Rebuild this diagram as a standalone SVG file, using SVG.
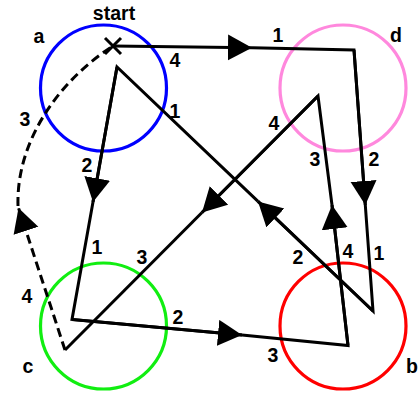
<svg xmlns="http://www.w3.org/2000/svg" width="420" height="396" viewBox="0 0 420 396">
<defs>
<marker id="arr" markerUnits="userSpaceOnUse" markerWidth="26" markerHeight="28" refX="24" refY="13" orient="auto">
<path d="M0,0 L24,13 L0,26 z" fill="#000"/>
</marker>
<style>
.node{fill:none;stroke-width:3.2}
.ln{fill:none;stroke:#000;stroke-width:3;stroke-linejoin:miter}
.dash{stroke-dasharray:9,5}
text{font-family:"Liberation Sans",Arial,sans-serif;font-weight:bold;font-size:19.5px;fill:#000;text-anchor:middle}
</style>
</defs>
<g id="node-a"><circle class="node" cx="103.5" cy="88" r="63" stroke="#0000ff"/><text x="39" y="43">a</text></g>
<g id="node-d"><circle class="node" cx="343" cy="88" r="63" stroke="#ff88dd"/><text x="396" y="42">d</text></g>
<g id="node-c"><circle class="node" cx="103.5" cy="326" r="63" stroke="#11ee11"/><text x="28" y="373">c</text></g>
<g id="node-b"><circle class="node" cx="343" cy="326" r="63" stroke="#ff0000"/><text x="412" y="373">b</text></g>
<g id="start"><text x="114" y="20">start</text>
<path class="ln" d="M105,38 L121,54 M121,38 L105,54"/></g>
<g id="connectors">
<path class="ln" marker-end="url(#arr)" d="M113,46 L252,47.7"/><path class="ln" d="M252,47.7 L354,50 L365.3,205"/>
<path class="ln" marker-end="url(#arr)" d="M354,50 L365.3,205"/><path class="ln" d="M365.3,205 L373,311 L258,201.4"/>
<path class="ln" marker-end="url(#arr)" d="M373,311 L258,201.4"/><path class="ln" d="M258,201.4 L117,67 L93,202"/>
<path class="ln" marker-end="url(#arr)" d="M117,67 L93,202"/><path class="ln" d="M93,202 L72,319.5 L242,335"/>
<path class="ln" marker-end="url(#arr)" d="M72,319.5 L242,335"/><path class="ln" d="M242,335 L348,345.5 L332,205"/>
<path class="ln" marker-end="url(#arr)" d="M348,345.5 L332,205"/><path class="ln" d="M332,205 L318,96 L202,212.5"/>
<path class="ln" marker-end="url(#arr)" d="M318,96 L202,212.5"/><path class="ln" d="M202,212.5 L65,350"/>
<path class="ln dash" marker-end="url(#arr)" d="M65,350 L18.5,208"/>
<path class="ln dash" d="M18,206 C16,140 60,80 113,46"/>
</g>
<g id="labels">
<text x="175" y="67">4</text>
<text x="175" y="118">1</text>
<text x="25" y="126">3</text>
<text x="87" y="172">2</text>
<text x="278" y="42">1</text>
<text x="274" y="130">4</text>
<text x="315" y="166">3</text>
<text x="374" y="166">2</text>
<text x="97" y="254">1</text>
<text x="142" y="264">3</text>
<text x="27" y="303">4</text>
<text x="178" y="324">2</text>
<text x="298" y="264">2</text>
<text x="348" y="258">4</text>
<text x="379" y="260">1</text>
<text x="273" y="362">3</text>
</g>
</svg>
